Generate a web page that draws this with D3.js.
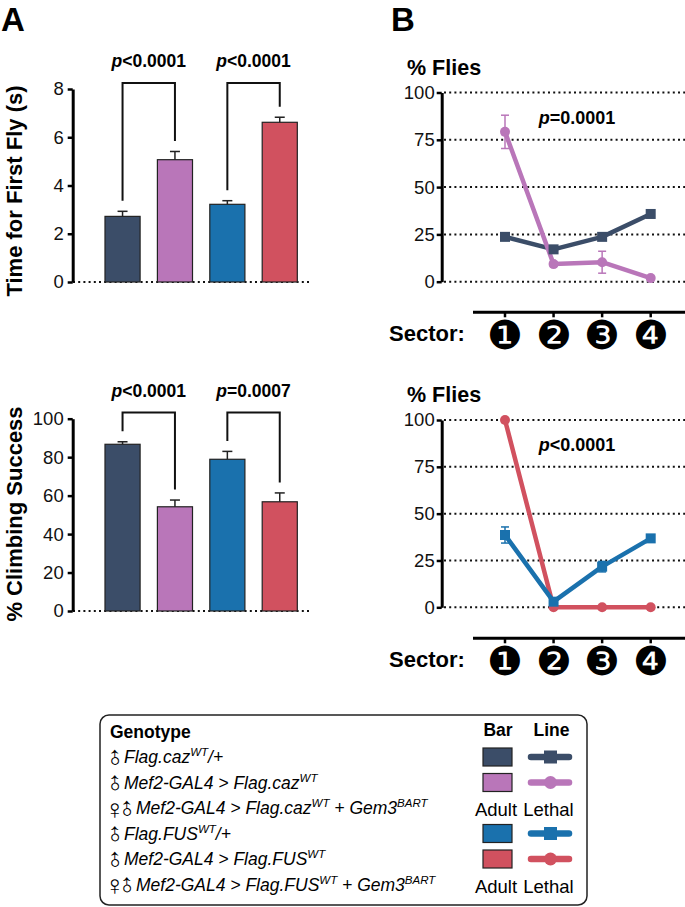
<!DOCTYPE html>
<html><head><meta charset="utf-8">
<script src="https://cdn.jsdelivr.net/npm/d3@7"></script>
<style>body{margin:0;background:#fff}svg{display:block}text{font-family:"Liberation Sans",Arial,sans-serif}</style>
</head><body>
<script>
// ---------- DATA ----------
const barGenotypes = ["Flag.cazWT/+", "Mef2>Flag.cazWT", "Flag.FUSWT/+", "Mef2>Flag.FUSWT"];
const barColors = ["#3b4d68", "#b976b9", "#1a71ad", "#d1515f"];
const flyTimeMean = [2.72, 5.07, 3.22, 6.62];
const flyTimeSEM  = [0.21, 0.34, 0.15, 0.21];
const flyTicks = [0, 2, 4, 6, 8];
const climbMean = [86.7, 54.2, 78.9, 56.8];
const climbSEM  = [1.3, 3.5, 4.1, 4.6];
const climbTicks = [0, 20, 40, 60, 80, 100];
const flyPvals = ["<0.0001", "<0.0001"];
const climbPvals = ["<0.0001", "=0.0007"];

const sectors = [1, 2, 3, 4];
const sectorGlyphs = ["\u2776", "\u2777", "\u2778", "\u2779"];
const pctTicks = [0, 25, 50, 75, 100];
const cazCtrlPct = [23.7, 17.1, 23.7, 35.8];
const cazCtrlErr = [1.5, 1.5, 1.5, 1.0];
const cazOEPct   = [79.2, 9.3, 10.3, 1.9];
const cazOEErr   = [8.8, 1.2, 5.8, 0.8];
const fusCtrlPct = [38.6, 3.0, 21.7, 36.8];
const fusCtrlErr = [4.3, 1.2, 2.8, 1.0];
const fusOEPct   = [100, 0, 0, 0];
const fusOEErr   = [0, 0, 0, 0];
const cazP = "=0.0001";
const fusP = "<0.0001";

const legendRows = [
  {sex: "\u2642", parts: [["Flag.caz", 0], ["WT", 1], ["/+", 0]], bar: 0, line: "square"},
  {sex: "\u2642", parts: [["Mef2-GAL4 > Flag.caz", 0], ["WT", 1]], bar: 1, line: "circle"},
  {sex: "\u2640\u2642", parts: [["Mef2-GAL4 > Flag.caz", 0], ["WT", 1], [" + Gem3", 0], ["BART", 1]], bar: null, line: null},
  {sex: "\u2642", parts: [["Flag.FUS", 0], ["WT", 1], ["/+", 0]], bar: 2, line: "square"},
  {sex: "\u2642", parts: [["Mef2-GAL4 > Flag.FUS", 0], ["WT", 1]], bar: 3, line: "circle"},
  {sex: "\u2640\u2642", parts: [["Mef2-GAL4 > Flag.FUS", 0], ["WT", 1], [" + Gem3", 0], ["BART", 1]], bar: null, line: null}
];

// ---------- DRAW ----------
const svg = d3.select("body").append("svg").attr("width", 685).attr("height", 907);

svg.append("text").attr("x", 1).attr("y", 31).attr("font-size", 33).attr("font-weight", "bold").text("A");
svg.append("text").attr("x", 391).attr("y", 31).attr("font-size", 33).attr("font-weight", "bold").text("B");

const xBar = d3.scaleBand().domain(barGenotypes).range([87.7, 314.6]).paddingInner(0.33).paddingOuter(0.33);

function pText(g, x, y, rest, size) {
  const t = g.append("text").attr("x", x).attr("y", y).attr("text-anchor", "middle")
    .attr("font-size", size).attr("font-weight", "bold");
  t.append("tspan").attr("font-style", "italic").text("p");
  t.append("tspan").text(rest);
}

function drawBars(y, means, sems, ticks, pvals, bracketVal, label, labelY) {
  const g = svg.append("g");
  g.append("line").attr("x1", 73).attr("x2", 312).attr("y1", y(0)).attr("y2", y(0))
    .attr("stroke", "#111").attr("stroke-width", 2).attr("stroke-dasharray", "2,3.2");
  g.selectAll("rect.bar").data(barGenotypes).join("rect")
    .attr("x", d => xBar(d)).attr("width", xBar.bandwidth())
    .attr("y", (d, i) => y(means[i])).attr("height", (d, i) => y(0) - y(means[i]))
    .attr("fill", (d, i) => barColors[i]).attr("stroke", "#222").attr("stroke-width", 1.2);
  barGenotypes.forEach((d, i) => {
    const cx = xBar(d) + xBar.bandwidth() / 2;
    g.append("line").attr("x1", cx).attr("x2", cx).attr("y1", y(means[i])).attr("y2", y(means[i] + sems[i]))
      .attr("stroke", "#222").attr("stroke-width", 1.5);
    g.append("line").attr("x1", cx - 5).attr("x2", cx + 5).attr("y1", y(means[i] + sems[i])).attr("y2", y(means[i] + sems[i]))
      .attr("stroke", "#222").attr("stroke-width", 1.5);
  });
  [[0, 1], [2, 3]].forEach((pair, k) => {
    const xa = xBar(barGenotypes[pair[0]]) + xBar.bandwidth() / 2;
    const xb = xBar(barGenotypes[pair[1]]) + xBar.bandwidth() / 2;
    const ya = y(means[pair[0]] + sems[pair[0]]) - 10.5;
    const yb = y(means[pair[1]] + sems[pair[1]]) - 10.5;
    const yt = y(bracketVal);
    g.append("path").attr("d", `M${xa},${ya}V${yt}H${xb}V${yb}`)
      .attr("fill", "none").attr("stroke", "#111").attr("stroke-width", 2);
    pText(g, (xa + xb) / 2, yt - 15.5, pvals[k], 17.5);
  });
  const ax = g.append("g").attr("transform", "translate(72.7,0)")
    .call(d3.axisLeft(y).tickValues(ticks).tickSize(5).tickSizeOuter(0).tickPadding(4));
  ax.select(".domain").attr("stroke", "#000").attr("stroke-width", 3);
  ax.selectAll(".tick line").attr("stroke", "#000").attr("stroke-width", 2.5);
  ax.selectAll(".tick text").attr("font-size", 18.5).attr("fill", "#111")
    .attr("font-family", "'Liberation Sans',Arial,sans-serif");
  g.append("text").attr("transform", `translate(22,${labelY}) rotate(-90)`).attr("text-anchor", "middle")
    .attr("font-size", 22).attr("font-weight", "bold").text(label);
}

const yFly = d3.scaleLinear().domain([0, 8]).range([282, 89]);
drawBars(yFly, flyTimeMean, flyTimeSEM, flyTicks, flyPvals, 8.25, "Time for First Fly (s)", 191);
const yClimb = d3.scaleLinear().domain([0, 100]).range([611, 418.7]);
drawBars(yClimb, climbMean, climbSEM, climbTicks, climbPvals, 103.2, "% Climbing Success", 514);

// ---------- line charts ----------
const xSec = d3.scalePoint().domain(sectors).range([505, 650.7]);

function drawLines(y, series, pval, sectorLineY) {
  const g = svg.append("g");
  g.selectAll("line.grid").data(pctTicks).join("line")
    .attr("x1", 444).attr("x2", 685).attr("y1", d => y(d)).attr("y2", d => y(d))
    .attr("stroke", "#111").attr("stroke-width", 2).attr("stroke-dasharray", "2,3.2");
  const ax = g.append("g").attr("transform", "translate(441.7,0)")
    .call(d3.axisLeft(y).tickValues(pctTicks).tickSize(5).tickSizeOuter(0).tickPadding(2));
  ax.select(".domain").attr("stroke", "#000").attr("stroke-width", 3);
  ax.selectAll(".tick line").attr("stroke", "#000").attr("stroke-width", 2.5);
  ax.selectAll(".tick text").attr("font-size", 18.5).attr("fill", "#111")
    .attr("font-family", "'Liberation Sans',Arial,sans-serif");
  g.append("text").attr("x", 407).attr("y", y(100) - 18).attr("font-size", 21.5).attr("font-weight", "bold").text("% Flies");
  pText(g, 577, y(100) + 31, pval, 18);
  const line = d3.line().x((d, i) => xSec(sectors[i])).y(d => y(d));
  series.forEach(s => {
    g.append("path").attr("d", line(s.vals)).attr("fill", "none").attr("stroke", s.color)
      .attr("stroke-width", 4.5).attr("stroke-linejoin", "round");
  });
  series.forEach(s => {
    s.vals.forEach((v, i) => {
      const cx = xSec(sectors[i]);
      if (s.errs[i] > 0) {
        const y1 = y(v + s.errs[i]), y2 = y(v - s.errs[i]);
        g.append("line").attr("x1", cx).attr("x2", cx).attr("y1", y1).attr("y2", y2).attr("stroke", s.color).attr("stroke-width", 1.5);
        [y1, y2].forEach(yy => g.append("line").attr("x1", cx - 4).attr("x2", cx + 4).attr("y1", yy).attr("y2", yy).attr("stroke", s.color).attr("stroke-width", 1.5));
      }
      if (s.shape === "square") {
        g.append("rect").attr("x", cx - 5).attr("y", y(v) - 5).attr("width", 10).attr("height", 10).attr("fill", s.color);
      } else {
        g.append("circle").attr("cx", cx).attr("cy", y(v)).attr("r", 5).attr("fill", s.color);
      }
    });
  });
  g.append("line").attr("x1", 473).attr("x2", 685).attr("y1", sectorLineY).attr("y2", sectorLineY)
    .attr("stroke", "#000").attr("stroke-width", 3);
  sectors.forEach((s, i) => {
    g.append("line").attr("x1", xSec(s)).attr("x2", xSec(s)).attr("y1", sectorLineY).attr("y2", sectorLineY + 5)
      .attr("stroke", "#000").attr("stroke-width", 2.5);
    g.append("text").attr("x", xSec(s)).attr("y", sectorLineY + 23).attr("text-anchor", "middle")
      .attr("dominant-baseline", "central").attr("font-family", "'DejaVu Sans'").attr("font-size", 40).text(sectorGlyphs[i]);
  });
  g.append("text").attr("x", 389).attr("y", sectorLineY + 28.5).attr("font-size", 22).attr("font-weight", "bold").text("Sector:");
}

const yPct1 = d3.scaleLinear().domain([0, 100]).range([281.7, 92.5]);
drawLines(yPct1, [
  {vals: cazCtrlPct, errs: cazCtrlErr, color: barColors[0], shape: "square"},
  {vals: cazOEPct, errs: cazOEErr, color: barColors[1], shape: "circle"}
], cazP, 312.3);
const yPct2 = d3.scaleLinear().domain([0, 100]).range([607.3, 420]);
drawLines(yPct2, [
  {vals: fusOEPct, errs: fusOEErr, color: barColors[3], shape: "circle"},
  {vals: fusCtrlPct, errs: fusCtrlErr, color: barColors[2], shape: "square"}
], fusP, 638.3);

// ---------- legend ----------
const lg = svg.append("g");
lg.append("rect").attr("x", 100).attr("y", 715).attr("width", 487).attr("height", 190).attr("rx", 9)
  .attr("fill", "#fff").attr("stroke", "#222").attr("stroke-width", 1.5);
const rowY = i => 757 + i * 25.5;
lg.append("text").attr("x", 110).attr("y", 737.5).attr("font-size", 17.5).attr("font-weight", "bold").text("Genotype");
lg.append("text").attr("x", 498).attr("y", 735.5).attr("text-anchor", "middle").attr("font-size", 17.5).attr("font-weight", "bold").text("Bar");
lg.append("text").attr("x", 551.5).attr("y", 735.5).attr("text-anchor", "middle").attr("font-size", 17.5).attr("font-weight", "bold").text("Line");
legendRows.forEach((r, i) => {
  const cy = rowY(i);
  const base = cy + 6;
  const syms = r.sex.split("");
  syms.forEach((s, k) => {
    const sx = 110 + k * 12;
    const t = lg.append("text").attr("x", sx + 5).attr("y", cy + 1).attr("text-anchor", "middle").attr("dominant-baseline", "central")
      .attr("font-family", "'DejaVu Sans'").attr("font-size", 28).text(s);
    if (s === "\u2642") t.attr("transform", `rotate(-45,${sx + 5},${cy + 1})`);
  });
  const tx = 110 + syms.length * 12 + 2;
  const t = lg.append("text").attr("x", tx).attr("y", base).attr("font-size", 17.5).attr("font-style", "italic");
  let up = false;
  r.parts.forEach(p => {
    const ts = t.append("tspan").text(p[0]);
    if (p[1] && !up) { ts.attr("dy", -7).attr("font-size", 11.5); up = true; }
    else if (!p[1] && up) { ts.attr("dy", 7); up = false; }
  });
  if (r.bar !== null) {
    lg.append("rect").attr("x", 483).attr("y", cy - 9).attr("width", 29).attr("height", 18)
      .attr("fill", barColors[r.bar]).attr("stroke", "#222").attr("stroke-width", 1.2);
    const c = barColors[r.bar];
    lg.append("line").attr("x1", 531).attr("x2", 569).attr("y1", cy).attr("y2", cy)
      .attr("stroke", c).attr("stroke-width", 6.5).attr("stroke-linecap", "round");
    if (r.line === "square") lg.append("rect").attr("x", 544).attr("y", cy - 6.5).attr("width", 13).attr("height", 13).attr("fill", c);
    else lg.append("circle").attr("cx", 550.5).attr("cy", cy).attr("r", 6.5).attr("fill", c);
  } else {
    lg.append("text").attr("x", 496).attr("y", base + 2).attr("text-anchor", "middle").attr("font-size", 18.5).text("Adult");
    lg.append("text").attr("x", 548.5).attr("y", base + 2).attr("text-anchor", "middle").attr("font-size", 18.5).text("Lethal");
  }
});
</script>
</body></html>
